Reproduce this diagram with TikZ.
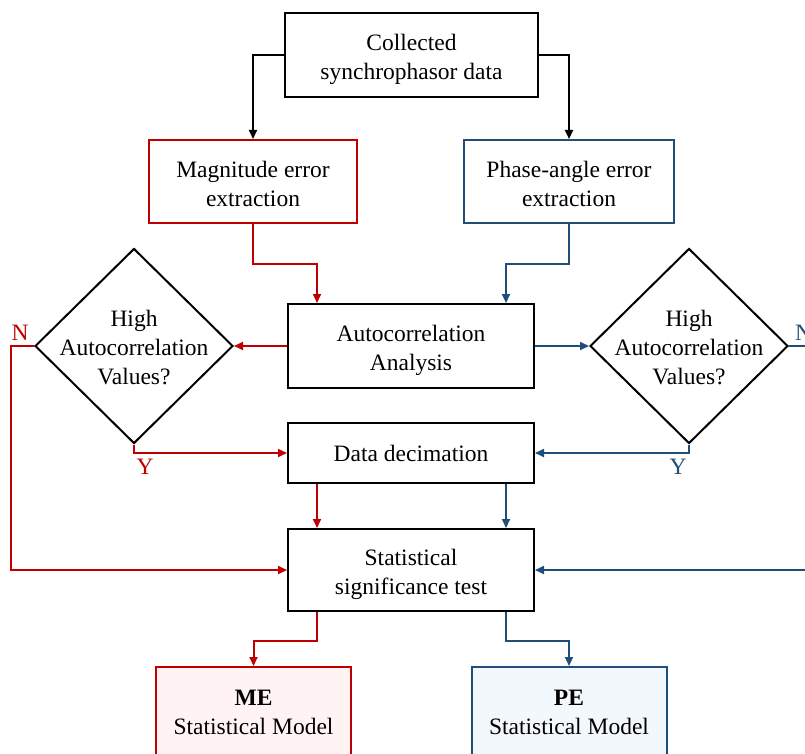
\documentclass[tikz,border=0pt]{standalone}
\usepackage{fontspec}
\setmainfont{Liberation Serif}
\usetikzlibrary{shapes.geometric,arrows.meta,calc}
\definecolor{mered}{HTML}{C00000}
\definecolor{peblue}{HTML}{1F4E79}
\definecolor{mefill}{HTML}{FFF3F3}
\definecolor{pefill}{HTML}{F3F8FC}

\begin{document}
\begin{tikzpicture}[x=1pt,y=-1pt,
  font=\fontsize{23.5}{29}\selectfont,
  box/.style={draw=black,line width=2pt,rectangle,inner sep=0pt},
  txt/.style={align=center,inner sep=0pt},
  dia/.style={draw=black,line width=2pt,diamond,inner sep=0pt,
              minimum width=198pt,minimum height=195pt},
  conn/.style={line width=2pt,-{Triangle[length=9pt,width=8pt]}},
  lbl/.style={inner sep=0pt}
]
\useasboundingbox (0,0) rectangle (805,754);
\clip (0,0) rectangle (805,754);

% process boxes
\node[box,minimum width=253pt,minimum height=84pt] (src) at (411.5,55) {};
\node[box,draw=mered,minimum width=208pt,minimum height=83pt] (mag) at (253,181.5) {};
\node[box,draw=peblue,minimum width=210pt,minimum height=83pt] (pha) at (569,181.5) {};
\node[box,minimum width=246pt,minimum height=84pt] (acf) at (411,346) {};
\node[box,minimum width=246pt,minimum height=60pt] (dec) at (411,453) {};
\node[box,minimum width=246pt,minimum height=82pt] (stat) at (411,570) {};
\node[box,draw=mered,fill=mefill,minimum width=195pt,minimum height=90pt] (me) at (253.5,712) {};
\node[box,draw=peblue,fill=pefill,minimum width=195pt,minimum height=90pt] (pe) at (569,712) {};

% box texts
\node[txt] (srct) at ([yshift=-4pt]src.center) {Collected\\synchrophasor data};
\node[txt] (magt) at ([yshift=-2pt]mag.center) {Magnitude error\\extraction};
\node[txt] (phat) at ([yshift=-2pt]pha.center) {Phase-angle error\\extraction};
\node[txt] (acft) at ([yshift=-4pt]acf.center) {Autocorrelation\\Analysis};
\node[txt] (dect) at (dec.center) {Data decimation};
\node[txt] (statt) at ([yshift=-4.5pt]stat.center) {Statistical\\significance test};
\node[txt] (met) at (me.center) {\textbf{ME}\\Statistical Model};
\node[txt] (pet) at (pe.center) {\textbf{PE}\\Statistical Model};

% decision diamonds
\node[dia] (dl) at (134,346) {};
\node[txt] (dlt) at (134,348) {High\\Autocorrelation\\Values?};
\node[dia] (dr) at (689,346) {};
\node[txt] (drt) at (689,348) {High\\Autocorrelation\\Values?};

% branch labels
\node[lbl,text=mered] (nl) at (20,333) {N};
\node[lbl,text=mered] (yl) at (145,467) {Y};
\node[lbl,text=peblue] (yr) at (678,467) {Y};
\node[lbl,text=peblue] (nr) at (803.5,333) {N};

% connectors
\draw[conn] (src.west) -| (mag.north);
\draw[conn] (src.east) -| (pha.north);
\draw[conn,mered] (mag.south) -- ++(0,40) -| ([xshift=-94pt]acf.north);
\draw[conn,peblue] (pha.south) -- ++(0,40) -| ([xshift=95pt]acf.north);
\draw[conn,mered] (acf.west) -- (dl.east);
\draw[conn,peblue] (acf.east) -- (dr.west);
\draw[conn,mered] (dl.south) |- (dec.west);
\draw[conn,peblue] (dr.south) |- (dec.east);
\draw[conn,mered] (dl.west) -- ++(-23,0) |- (stat.west);
\draw[conn,peblue] (dr.east) -- ++(30,0) |- (stat.east);
\draw[conn,mered] ([xshift=-94pt]dec.south) -- ([xshift=-94pt]stat.north);
\draw[conn,peblue] ([xshift=95pt]dec.south) -- ([xshift=95pt]stat.north);
\draw[conn,mered] ([xshift=-94pt]stat.south) -- ++(0,29) -| (me.north);
\draw[conn,peblue] ([xshift=95pt]stat.south) -- ++(0,29) -| (pe.north);
\end{tikzpicture}
\end{document}
